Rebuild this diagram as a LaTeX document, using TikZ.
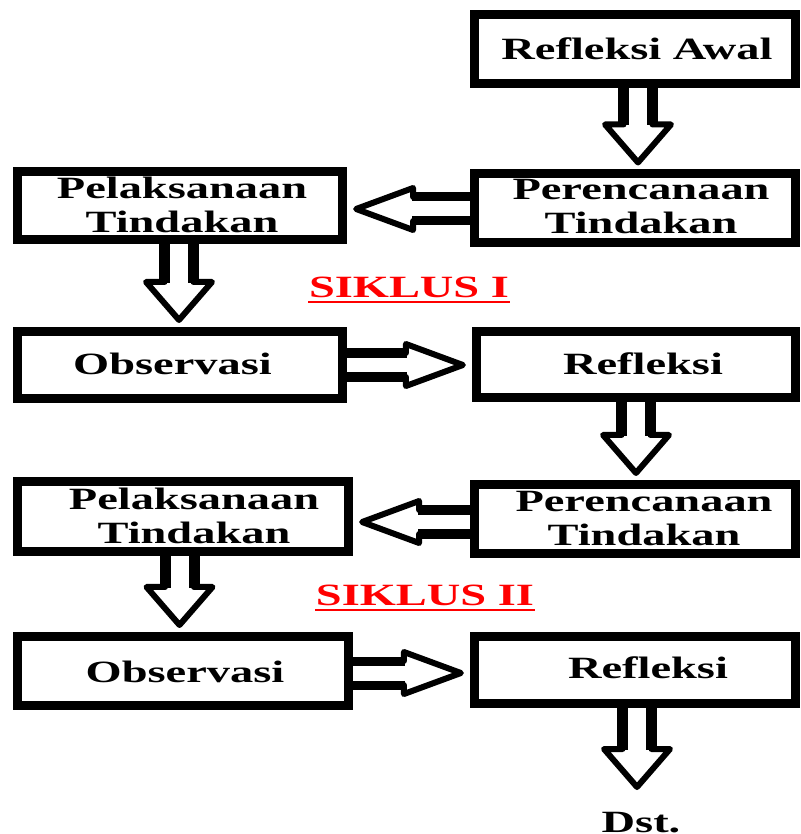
\documentclass[tikz,border=0pt]{standalone}
\usepackage{fontspec}
\setmainfont{Liberation Serif}[FakeStretch=1.5]
\usetikzlibrary{calc}
\newcommand\fs{\fontsize{8.8pt}{9.6pt}\selectfont\bfseries}
% #1 horizontal shift (twice the offset), #2 downward shift, #3 lines
\newcommand\tx[3]{\hspace*{#1}\raisebox{-#2}[\height][\depth]{\begin{tabular}{@{}c@{}}#3\end{tabular}}}
% vertical block arrow: #1 source node, #2 target anchor, #3 x offset (px)
\newcommand\varrow[3]{%
 \draw[vshaft] ($(#1.south)+(#3-14.5,0)$) -- ($(#1.south|-#2)+(#3-14.5,-44)$);
 \draw[vshaft] ($(#1.south)+(#3+14.5,0)$) -- ($(#1.south|-#2)+(#3+14.5,-44)$);
 \draw[headline] ($(#1.south|-#2)+(#3-14.5,-45)$) -- ($(#1.south|-#2)+(#3-33,-45)$)
   -- ($(#1.south|-#2)+(#3,-7)$) -- ($(#1.south|-#2)+(#3+33,-45)$) -- ($(#1.south|-#2)+(#3+14.5,-45)$);
}
% left block arrow: #1 source node, #2 target node, #3 y offset (px)
\newcommand\larrow[3]{%
 \draw[hshaft] ($(#1.west)+(0,#3-12)$) -- ($(#2.east|-#1.west)+(65,#3-12)$);
 \draw[hshaft] ($(#1.west)+(0,#3+12)$) -- ($(#2.east|-#1.west)+(65,#3+12)$);
 \draw[headline] ($(#2.east|-#1.west)+(66,#3-12)$) -- ($(#2.east|-#1.west)+(66,#3-21)$)
   -- ($(#2.east|-#1.west)+(9,#3)$) -- ($(#2.east|-#1.west)+(66,#3+21)$) -- ($(#2.east|-#1.west)+(66,#3+12)$);
}
% right block arrow
\newcommand\rarrow[3]{%
 \draw[hshaft] ($(#1.east)+(0,#3-12)$) -- ($(#2.west|-#1.east)+(-65,#3-12)$);
 \draw[hshaft] ($(#1.east)+(0,#3+12)$) -- ($(#2.west|-#1.east)+(-65,#3+12)$);
 \draw[headline] ($(#2.west|-#1.east)+(-66,#3-12)$) -- ($(#2.west|-#1.east)+(-66,#3-21)$)
   -- ($(#2.west|-#1.east)+(-9,#3)$) -- ($(#2.west|-#1.east)+(-66,#3+21)$) -- ($(#2.west|-#1.east)+(-66,#3+12)$);
}
\begin{document}
\begin{tikzpicture}[x=0.01cm,y=-0.01cm,
  box/.style={draw, line width=0.09cm, inner sep=0pt, font=\fs},
  vshaft/.style={line width=0.11cm},
  hshaft/.style={line width=0.09cm},
  headline/.style={line width=0.06cm, line join=round, line cap=round},
  cyc/.style={text=red, font=\fs, inner sep=0pt, anchor=base},
  uline/.style={draw=red, line width=0.02cm},
  ]
\useasboundingbox (0,0) rectangle (801,834);
% boxes
\node[box, minimum width=3.21cm, minimum height=0.69cm] (RA) at (635,49)    {\tx{0.04cm}{0.033cm}{Refleksi Awal}};
\node[box, minimum width=3.21cm, minimum height=0.68cm] (P1) at (635,208)   {\tx{0.12cm}{0.02cm}{Perencanaan\\Tindakan}};
\node[box, minimum width=3.25cm, minimum height=0.68cm] (L1) at (180,205.5) {\tx{0.04cm}{0.03cm}{Pelaksanaan\\Tindakan}};
\node[box, minimum width=3.25cm, minimum height=0.67cm] (O1) at (180,365)   {\tx{-0.15cm}{0.023cm}{Observasi}};
\node[box, minimum width=3.19cm, minimum height=0.66cm] (R1) at (636,364.5) {\tx{0.14cm}{0.035cm}{Refleksi}};
\node[box, minimum width=3.21cm, minimum height=0.69cm] (P2) at (635,519)   {\tx{0.18cm}{0.03cm}{Perencanaan\\Tindakan}};
\node[box, minimum width=3.31cm, minimum height=0.70cm] (L2) at (183,516.5) {\tx{0.22cm}{0.03cm}{Pelaksanaan\\Tindakan}};
\node[box, minimum width=3.31cm, minimum height=0.69cm] (O2) at (183,671)   {\tx{0.04cm}{0.05cm}{Observasi}};
\node[box, minimum width=3.21cm, minimum height=0.67cm] (R2) at (635,670)   {\tx{0.26cm}{0.02cm}{Refleksi}};
% labels
\node[cyc] (S1) at (409,298) {SIKLUS I};
\node[cyc] (S2) at (425,605) {SIKLUS II};
\draw[uline] ([yshift=-0.04cm]S1.base west) -- ([yshift=-0.04cm]S1.base east);
\draw[uline] ([yshift=-0.045cm]S2.base west) -- ([yshift=-0.045cm]S2.base east);
\node[font=\fs, inner sep=0pt, anchor=base] (D) at (641,832) {Dst.};
\coordinate (Din) at (636,794);
% arrows
\varrow{RA}{P1.north}{3}
\larrow{P1}{L1}{1}
\varrow{L1}{O1.north}{-1}
\rarrow{O1}{R1}{0}
\varrow{R1}{P2.north}{0}
\larrow{P2}{L2}{3}
\varrow{L2}{O2.north}{-3.5}
\rarrow{O2}{R2}{2}
\varrow{R2}{Din}{2}
\end{tikzpicture}
\end{document}
